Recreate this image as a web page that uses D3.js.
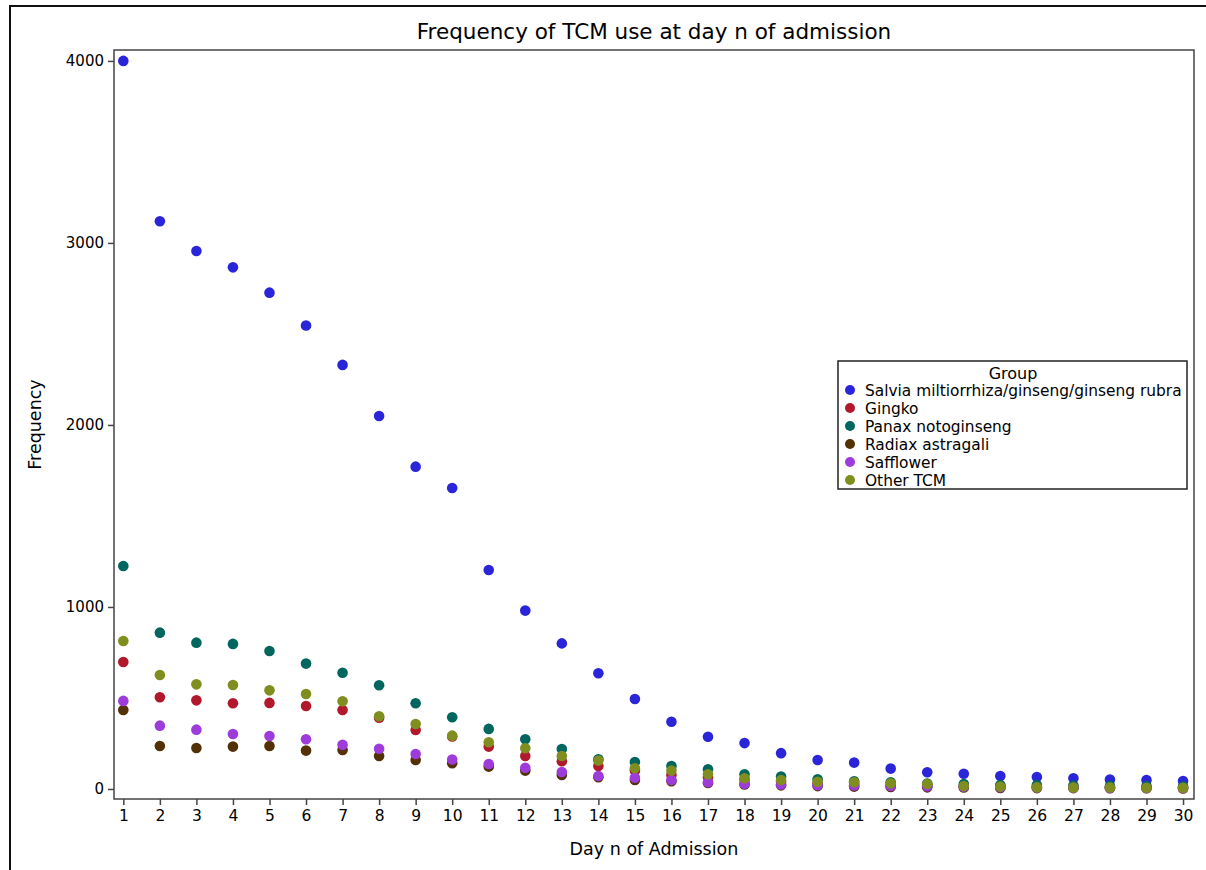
<!DOCTYPE html>
<html>
<head>
<meta charset="utf-8">
<script src="https://d3js.org/d3.v7.min.js"></script>
<style>
  body { margin: 0; background: #fff; }
  text { font-family: "DejaVu Sans", sans-serif; fill: #000; }
</style>
</head>
<body>
<svg width="1206" height="870"></svg>
<script>
// frequency of TCM use per day of admission
var days = d3.range(1, 31);
var groups = ["Salvia miltiorrhiza/ginseng/ginseng rubra", "Gingko", "Panax notoginseng",
              "Radiax astragali", "Safflower", "Other TCM"];
var colors = ["#2A25D9", "#B2182B", "#01665E", "#543005", "#9D3CDB", "#7F8E1F"];

var salvia = [4000, 3119, 2956, 2866, 2727, 2546, 2330, 2049, 1771, 1654, 1203, 980, 800, 636, 494,
              369, 287, 252, 197, 159, 145, 112, 92, 84, 71, 66, 59, 52, 49, 44];
var gingko = [698, 504, 487, 471, 473, 456, 434, 392, 324, 288, 233, 181, 152, 126, 101,
              77, 64, 50, 40, 32, 28, 24, 20, 16, 14, 12, 10, 9, 8, 7];
var panax = [1225, 859, 804, 797, 758, 689, 639, 570, 471, 394, 330, 273, 220, 163, 148,
             126, 108, 81, 68, 53, 42, 37, 30, 27, 22, 22, 19, 17, 16, 15];
var radiax = [434, 236, 225, 233, 236, 211, 214, 181, 159, 141, 123, 101, 77, 65, 49,
              43, 33, 25, 20, 16, 13, 11, 9, 8, 6, 5, 5, 4, 4, 3];
var safflower = [484, 348, 326, 302, 291, 273, 243, 221, 192, 162, 137, 117, 93, 71, 62,
                 49, 37, 29, 25, 21, 19, 17, 15, 12, 10, 8, 7, 6, 5, 5];
var other = [813, 626, 575, 571, 542, 522, 482, 399, 357, 293, 257, 224, 181, 156, 114,
             101, 81, 59, 49, 40, 37, 31, 27, 16, 13, 9, 8, 8, 7, 7];
var series = [salvia, gingko, panax, radiax, safflower, other];
var yTicks = [0, 1000, 2000, 3000, 4000];

var svg = d3.select("svg");
var plotLeft = 114, plotRight = 1194, plotTop = 50, plotBottom = 799;

var x = d3.scaleLinear().domain([0.745, 30.3]).range([plotLeft, plotRight]);
var y = d3.scaleLinear().domain([-55, 4060]).range([plotBottom, plotTop]);

// outer frame (top and left edges only, image is cropped)
svg.append("path")
    .attr("d", "M10,870V6H1206")
    .attr("fill", "none")
    .attr("stroke", "#111")
    .attr("stroke-width", 2);

svg.append("text")
    .attr("x", (plotLeft + plotRight) / 2)
    .attr("y", 39)
    .attr("text-anchor", "middle")
    .style("font-size", "21.5px")
    .text("Frequency of TCM use at day n of admission");

var xAxis = d3.axisBottom(x).tickValues(days).tickSize(6).tickPadding(5).tickSizeOuter(0);
var yAxis = d3.axisLeft(y).tickValues(yTicks).tickFormat(d3.format("d"))
    .tickSize(6).tickPadding(4).tickSizeOuter(0);

svg.append("g")
    .attr("transform", "translate(0," + plotBottom + ")")
    .call(xAxis)
    .call(function(g) { g.select(".domain").remove(); })
    .selectAll("text").style("font-size", "15.5px").attr("fill", "#000");

svg.append("g")
    .attr("transform", "translate(" + plotLeft + ",0)")
    .call(yAxis)
    .call(function(g) { g.select(".domain").remove(); })
    .selectAll("text").style("font-size", "15px").attr("fill", "#000");

svg.selectAll(".tick line").attr("stroke", "#444").attr("stroke-width", 1.5);

svg.append("rect")
    .attr("x", plotLeft).attr("y", plotTop)
    .attr("width", plotRight - plotLeft).attr("height", plotBottom - plotTop)
    .attr("fill", "none")
    .attr("stroke", "#444")
    .attr("stroke-width", 1.5);

svg.append("text")
    .attr("x", (plotLeft + plotRight) / 2)
    .attr("y", 855)
    .attr("text-anchor", "middle")
    .style("font-size", "17.5px")
    .text("Day n of Admission");

svg.append("text")
    .attr("transform", "translate(41," + ((plotTop + plotBottom) / 2) + ") rotate(-90)")
    .attr("text-anchor", "middle")
    .style("font-size", "17.5px")
    .text("Frequency");

// points, drawn group by group so later groups sit on top
series.forEach(function(vals, i) {
  svg.append("g").selectAll("circle")
    .data(vals)
    .enter().append("circle")
      .attr("cx", function(d, j) { return x(days[j]); })
      .attr("cy", function(d) { return y(d); })
      .attr("r", 5.3)
      .attr("fill", colors[i]);
});

// legend
var lg = svg.append("g").attr("transform", "translate(838,361)");
lg.append("rect")
    .attr("width", 349).attr("height", 128)
    .attr("fill", "#fff")
    .attr("stroke", "#222")
    .attr("stroke-width", 1.5);
lg.append("text")
    .attr("x", 175).attr("y", 18)
    .attr("text-anchor", "middle")
    .style("font-size", "16px")
    .text("Group");
var item = lg.selectAll(".item")
    .data(groups)
    .enter().append("g")
      .attr("class", "item")
      .attr("transform", function(d, i) { return "translate(0," + (29 + i * 18) + ")"; });
item.append("circle")
    .attr("cx", 12).attr("cy", 0).attr("r", 5)
    .attr("fill", function(d, i) { return colors[i]; });
item.append("text")
    .attr("x", 27).attr("y", 5.5)
    .style("font-size", "15.4px")
    .text(function(d) { return d; });
</script>
</body>
</html>
